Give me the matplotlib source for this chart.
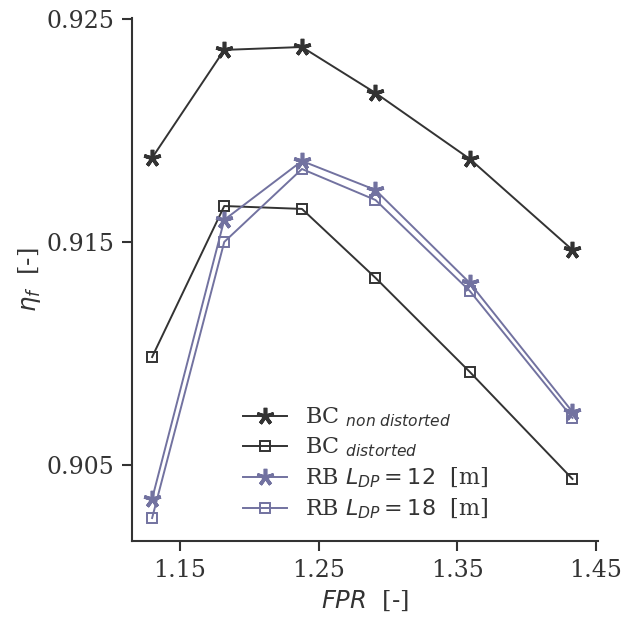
import matplotlib
matplotlib.use("Agg")
import matplotlib.pyplot as plt
import numpy as np

# fan pressure ratio
fpr = [1.13, 1.182, 1.238, 1.291, 1.359, 1.433]

# fan efficiency for each case
eta_bc_clean = [0.91877, 0.92361, 0.92374, 0.92168, 0.91872, 0.91464]
eta_bc_dist = [0.90984, 0.91661, 0.91648, 0.91339, 0.90917, 0.90437]
eta_rb_12 = [0.90348, 0.91599, 0.91863, 0.91733, 0.91316, 0.90738]
eta_rb_18 = [0.90262, 0.91500, 0.91827, 0.91688, 0.91280, 0.90711]

xticks = [1.15, 1.25, 1.35, 1.45]
yticks = [0.905, 0.915, 0.925]

dark = "#333333"
purple = "#7272a0"

plt.rcParams["font.family"] = "DejaVu Serif"
plt.rcParams["mathtext.fontset"] = "dejavusans"

fig = plt.figure(figsize=(6.25, 6.17), dpi=100)
ax = fig.add_axes([0.2112, 0.1232, 0.7456, 0.8476])

star = (5, 2, 0)  # asterisk
ax.plot(fpr, eta_bc_clean, color=dark, lw=1.4, marker=star, ms=12.5, mew=2.6,
        label=r"BC $_{non\;distorted}$")
ax.plot(fpr, eta_bc_dist, color=dark, lw=1.4, marker="s", ms=7, mfc="none", mew=1.4,
        label=r"BC $_{distorted}$")
ax.plot(fpr, eta_rb_12, color=purple, lw=1.4, marker=star, ms=12.5, mew=2.6,
        label=r"RB $L_{DP} = 12$  [m]")
ax.plot(fpr, eta_rb_18, color=purple, lw=1.4, marker="s", ms=7, mfc="none", mew=1.4,
        label=r"RB $L_{DP} = 18$  [m]")

ax.set_xlim(1.1155, 1.4514)
ax.set_ylim(0.90159, 0.92504)
ax.set_xticks(xticks)
ax.set_yticks(yticks)
ax.set_xticklabels(["%.2f" % t for t in xticks])
ax.set_yticklabels(["%.3f" % t for t in yticks])

for s in ["top", "right"]:
    ax.spines[s].set_visible(False)
for s in ["left", "bottom"]:
    ax.spines[s].set_color(dark)
    ax.spines[s].set_linewidth(1.5)
ax.tick_params(colors=dark, labelsize=17, length=7, width=1.5, direction="out", pad=6)

ax.set_xlabel(r"$FPR$  [-]", fontsize=17.5, color=dark, labelpad=5)
ax.set_ylabel(r"$\eta_f$  [-]", fontsize=17.5, color=dark, labelpad=2)

leg = ax.legend(loc="lower left", bbox_to_anchor=(0.195, 0.0), frameon=False,
                fontsize=16, handlelength=2.0, handletextpad=0.8, labelspacing=0.3,
                labelcolor=dark)

fig.savefig("out.png", dpi=100)
